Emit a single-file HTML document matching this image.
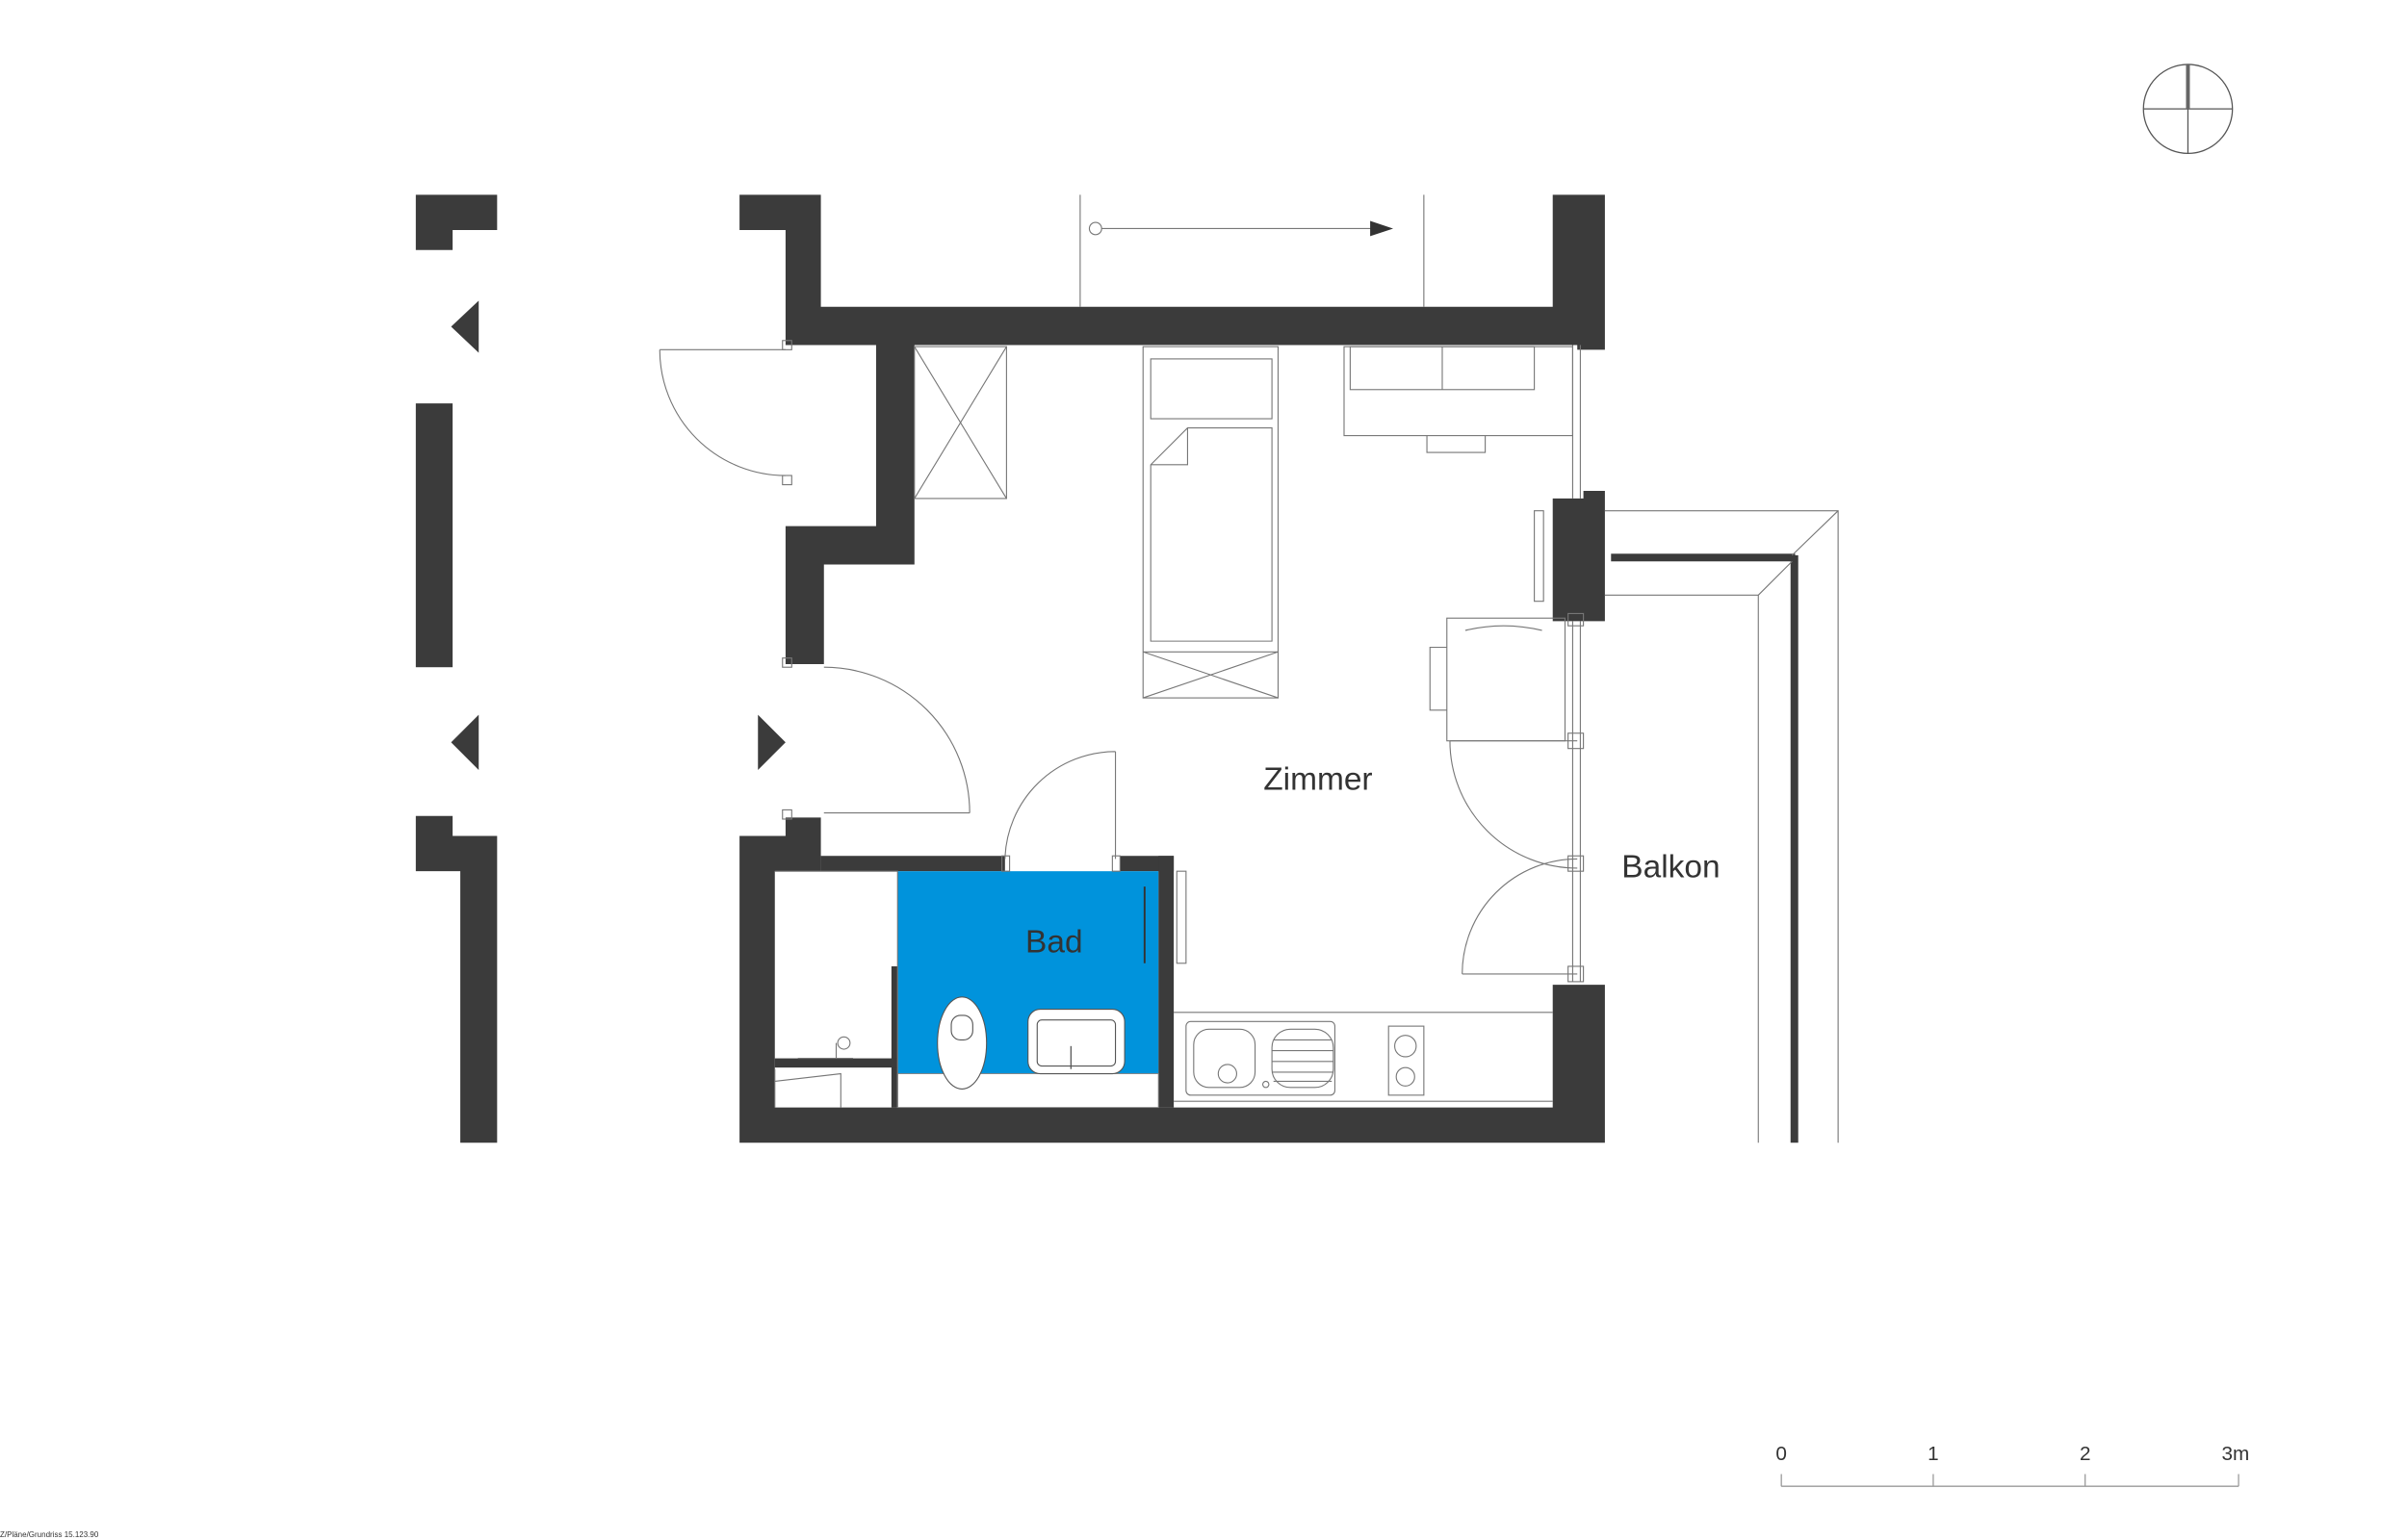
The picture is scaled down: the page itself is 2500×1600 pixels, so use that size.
<!DOCTYPE html>
<html><head><meta charset="utf-8"><style>
html,body{margin:0;padding:0;background:#fff;width:2500px;height:1600px;overflow:hidden}
svg{display:block}
text{font-family:"Liberation Sans",Arial,sans-serif;fill:#333}
</style></head><body>
<svg width="2500" height="1600" viewBox="0 0 1562.5 1000" xmlns="http://www.w3.org/2000/svg">
<g transform="scale(0.996)">
<g fill="#3b3b3b" stroke="none">
<path d="M271,127 H324 V150 H295 V163 H271 Z"/>
<path d="M294,213 L312,196 L312,230 Z"/>
<rect x="271" y="263" width="24" height="172"/>
<path d="M294,484 L312,466 L312,502 Z"/>
<path d="M271,532 H295 V545 H324 V745 H300 V568 H271 Z"/>
<path d="M512,484 L494,466 L494,502 Z"/>
<path d="M482,127 H535 V200 H1012 V127 H1046 V228 H1028 V225 H512 V150 H482 Z"/>
<path d="M571,225 H596 V368 H537 V433 H512 V343 H571 Z"/>
<path d="M1012,325 H1032 V320 H1046 V405 H1012 Z"/>
<path d="M482,545 H512 V533 H535 V568 H505 V722 H1012 V642 H1046 V745 H482 Z"/>
<rect x="535" y="558" width="120" height="10"/>
<rect x="730" y="558" width="35" height="10"/>
<rect x="755" y="558" width="10" height="164"/>
<rect x="581" y="630" width="4" height="92"/>
<rect x="505" y="690" width="80" height="6"/>
<rect x="1167" y="362" width="5" height="383"/>
<rect x="1050" y="361" width="120" height="5"/>
</g>
<rect x="585" y="568" width="170" height="132" fill="#0093dc"/>
<rect x="585" y="700" width="170" height="22" fill="#fff" stroke="#888" stroke-width="0.6"/>
<g fill="none" stroke="#777" stroke-width="0.7">
<path d="M1046,333 H1198 V745 M1198,333 L1168,362 M1046,388 H1146 V745 M1146,388 L1168,366"/>
<path d="M704,127 V200 M928,127 V200 M718,149 H895"/>
<circle cx="714" cy="149" r="4"/>
<path d="M1025,225 V325 M1030,225 V325 M1025,405 V640 M1030,405 V640"/>
<rect x="1022" y="478" width="10" height="10"/><rect x="1022" y="558" width="10" height="10"/><rect x="1022" y="630" width="10" height="10"/><rect x="1022" y="400" width="10" height="8"/>
<path d="M430,228 H512 M430,228 A82,82 0 0 0 512,310"/>
<path d="M537,530 H632 M537,435 A95,95 0 0 1 632,530"/>
<path d="M727,490 V560 M727,490 A72,72 0 0 0 655,560"/>
<path d="M945,483 H1028 M945,483 A83,83 0 0 0 1028,566"/>
<path d="M953,635 H1028 M953,635 A75,75 0 0 1 1028,560"/>
<rect x="510" y="222" width="6" height="6"/><rect x="510" y="310" width="6" height="6"/><rect x="510" y="429" width="6" height="6"/><rect x="510" y="528" width="6" height="6"/><rect x="653" y="558" width="5" height="10"/><rect x="725" y="558" width="5" height="10"/>
<rect x="596" y="226" width="60" height="99"/><path d="M596,226 L656,325 M656,226 L596,325"/>
<rect x="745" y="226" width="88" height="229"/>
<rect x="750" y="234" width="79" height="39"/>
<path d="M750,303 L774,279 H829 V418 H750 Z M774,279 V303 H750"/>
<path d="M745,425 H833 M745,425 L833,455 M833,425 L745,455"/>
<rect x="876" y="226" width="149" height="58"/>
<rect x="880" y="226" width="120" height="28"/><path d="M940,226 V254"/>
<path d="M930,284 V295 H968 V284"/>
<rect x="943" y="403" width="77" height="80"/>
<path d="M955,411 Q980,405 1005,411"/>
<path d="M943,422 H932 V463 H943"/>
<rect x="1000" y="333" width="6" height="59"/>
<rect x="767" y="568" width="6" height="60"/>
<path d="M765,660 H1012 M765,718 H1012"/>
<rect x="773" y="666" width="97" height="48" rx="3"/>
<rect x="778" y="671" width="40" height="38" rx="10"/>
<rect x="829" y="671" width="40" height="38" rx="12"/>
<path d="M830,678 H868 M829,685 H869 M829,692 H869 M829,699 H869 M830,705 H868"/>
<circle cx="800" cy="700" r="6"/><circle cx="825" cy="707" r="2"/>
<rect x="905" y="669" width="23" height="45"/>
<circle cx="916" cy="682" r="7"/><circle cx="916" cy="702" r="6"/>
<path d="M505,568 H585 V722"/>
<path d="M520,690 H556 M545,690 V680"/>
<circle cx="550" cy="680" r="4"/>
<path d="M505,697 V722 M505,705 L548,700 V722"/>
</g>
<g fill="#fff" stroke="#555" stroke-width="0.7">
<ellipse cx="627" cy="680" rx="16" ry="30"/>
<rect x="670" y="658" width="63" height="42" rx="8"/>
<rect x="676" y="665" width="51" height="30" rx="3"/>
<rect x="620" y="662" width="14" height="16" rx="6"/>
</g>
<path d="M746,578 V628" stroke="#333" stroke-width="1.2"/>
<path d="M698,682 V697" stroke="#555" stroke-width="0.8"/>
<path d="M893,144 L908,149 L893,154 Z" fill="#333"/>
<g fill="none" stroke="#555" stroke-width="0.8">
<circle cx="1426" cy="71" r="29"/><path d="M1397,71 H1455 M1426,42 V100"/>
</g>
<path d="M1426,42 V71" stroke="#666" stroke-width="2.5"/>
<g fill="none" stroke="#999" stroke-width="0.8"><path d="M1161,969 H1459 M1161,961 V969 M1260,961 V969 M1359,961 V969 M1459,961 V969"/></g>
<g font-size="13">
<text x="1161" y="952" text-anchor="middle">0</text>
<text x="1260" y="952" text-anchor="middle">1</text>
<text x="1359" y="952" text-anchor="middle">2</text>
<text x="1457" y="952" text-anchor="middle">3m</text>
</g>
<text x="859" y="515" font-size="21" text-anchor="middle">Zimmer</text>
<text x="687" y="621" font-size="21" text-anchor="middle">Bad</text>
<text x="1089" y="572" font-size="21" text-anchor="middle">Balkon</text>
</g>
<text x="0" y="998" font-size="5" fill="#aaa">Z/Pläne/Grundriss 15.123.90</text>
</svg>
</body></html>
